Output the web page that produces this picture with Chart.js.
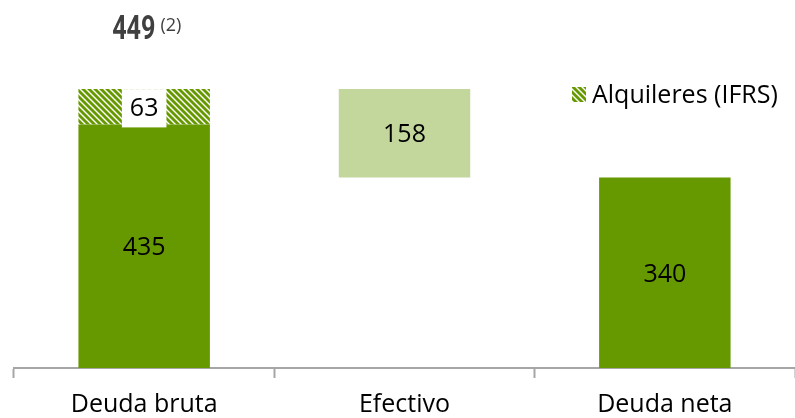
<!DOCTYPE html>
<html>
<head>
<meta charset="utf-8">
<script src="https://cdn.jsdelivr.net/npm/chart.js@4.4.1/dist/chart.umd.min.js"></script>
<style>
  html, body { margin: 0; padding: 0; background: #fff; }
  #wrap { width: 795px; height: 418px; position: relative; }
</style>
</head>
<body>
<div id="wrap">
  <canvas id="deudaChart"></canvas>
</div>

<script>
// datos de la cascada de deuda
var categorias = ['Deuda bruta', 'Efectivo', 'Deuda neta'];
var deudaBase = [435, null, 340];
var alquileres = [63, null, null];
var efectivo = [null, 158, null];
var totalConAlquileres = 449;
var notaTotal = '(2)';
var leyendaAlquileres = 'Alquileres (IFRS)';

var verde = '#669900';
var verdeClaro = '#c3d69b';

// trama diagonal para los alquileres
function crearTrama() {
    var c = document.createElement('canvas');
    c.width = 6;
    c.height = 6;
    var g = c.getContext('2d');
    g.fillStyle = '#ffffff';
    g.fillRect(0, 0, 6, 6);
    g.strokeStyle = verde;
    g.lineWidth = 2.8;
    for (var k = -6; k <= 6; k += 6) {
        g.beginPath();
        g.moveTo(k - 1, -1);
        g.lineTo(k + 7, 7);
        g.stroke();
    }
    return g.createPattern(c, 'repeat');
}
var trama = crearTrama();

// barras flotantes [inicio, fin]
var serieBase = deudaBase.map(function(v) { return v === null ? null : [0, v]; });
var serieAlq = alquileres.map(function(v, i) { return v === null ? null : [deudaBase[i], deudaBase[i] + v]; });
var serieEfec = efectivo.map(function(v, i) {
    if (v === null) return null;
    var bruta = deudaBase[0] + alquileres[0];
    return [bruta - v, bruta];
});
var valoresBase = deudaBase, valoresAlq = alquileres, valoresEfec = efectivo;

var fuente = '"Open Sans", "Liberation Sans", sans-serif';

var etiquetasPlugin = {
    id: 'etiquetas',
    afterDatasetsDraw: function(chart) {
        var ctx = chart.ctx;
        var listas = [valoresBase, valoresAlq, valoresEfec];
        ctx.save();
        ctx.font = '25px ' + fuente;
        ctx.textAlign = 'center';
        ctx.textBaseline = 'middle';
        listas.forEach(function(vals, d) {
            var meta = chart.getDatasetMeta(d);
            meta.data.forEach(function(bar, i) {
                if (vals[i] === null) return;
                var y = (bar.y + bar.base) / 2;
                var txt = String(vals[i]);
                if (d === 1) {
                    var w = ctx.measureText(txt).width + 16;
                    var top = Math.min(bar.y, bar.base);
                    ctx.fillStyle = '#ffffff';
                    ctx.fillRect(bar.x - w / 2, top, w, Math.abs(bar.base - bar.y) + 3);
                }
                ctx.fillStyle = '#000000';
                ctx.fillText(txt, bar.x, y + 2);
            });
        });

        // total con alquileres sobre la primera barra (letra estrecha)
        var b0 = chart.getDatasetMeta(0).data[0];
        var x0 = b0.x - 32;
        var t = String(totalConAlquileres);
        ctx.fillStyle = '#404040';
        ctx.textAlign = 'left';
        ctx.textBaseline = 'alphabetic';
        ctx.font = 'bold 34px Roboto, "Liberation Sans", sans-serif';
        var wt = ctx.measureText(t).width * 0.74;
        ctx.save();
        ctx.translate(x0, 39);
        ctx.scale(0.74, 1);
        ctx.fillText(t, 0, 0);
        ctx.restore();
        ctx.font = '18px ' + fuente;
        ctx.fillText(notaTotal, x0 + wt + 5, 31);

        // leyenda
        var lx = 572, ly = 95;
        ctx.fillStyle = trama;
        ctx.fillRect(lx, ly - 8, 14, 15);
        ctx.font = '25px ' + fuente;
        ctx.fillStyle = '#000000';
        ctx.textBaseline = 'middle';
        ctx.fillText(leyendaAlquileres, lx + 20, ly + 1);
        ctx.restore();
    }
};

var ctx = document.getElementById('deudaChart').getContext('2d');
var deudaChart = new Chart(ctx, {
    type: 'bar',
    data: {
        labels: categorias,
        datasets: [
            { label: 'Deuda', data: serieBase, backgroundColor: verde },
            { label: leyendaAlquileres, data: serieAlq, backgroundColor: trama },
            { label: 'Efectivo', data: serieEfec, backgroundColor: verdeClaro }
        ]
    },
    options: {
        responsive: true,
        maintainAspectRatio: false,
        animation: false,
        barPercentage: 0.505,
        categoryPercentage: 1,
        layout: { padding: { top: 32, left: 14, right: 0, bottom: 0 } },
        plugins: {
            legend: { display: false },
            tooltip: { enabled: false }
        },
        scales: {
            x: {
                stacked: true,
                afterFit: function(scale) { scale.height = 50; },
                border: { color: '#a6a6a6', width: 2 },
                grid: {
                    offset: true,
                    drawOnChartArea: false,
                    drawTicks: true,
                    tickLength: 10,
                    tickWidth: 2,
                    color: '#a6a6a6'
                },
                ticks: {
                    color: '#000000',
                    padding: 12,
                    font: { family: fuente, size: 25 }
                }
            },
            y: {
                display: false,
                stacked: false,
                min: 0,
                max: 600
            }
        }
    },
    plugins: [etiquetasPlugin]
});
</script>
</body>
</html>
